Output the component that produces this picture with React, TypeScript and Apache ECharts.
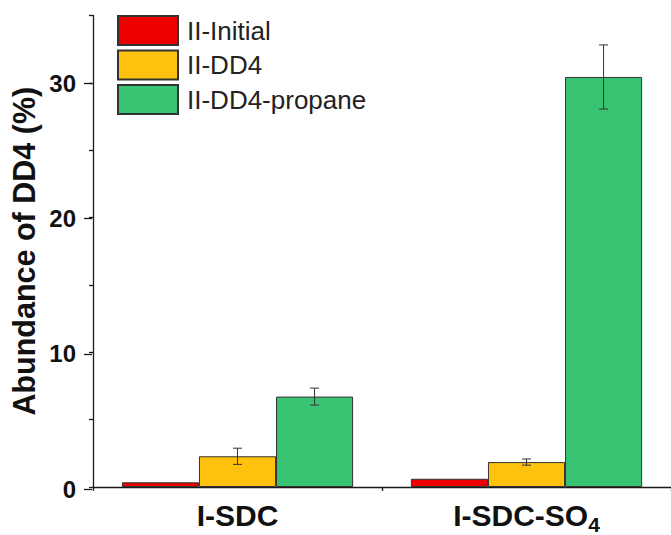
import React, { useEffect, useRef } from "react";
import * as echarts from "echarts";

const categories = ["I-SDC", "I-SDC-SO4"];
const seriesNames = ["II-Initial", "II-DD4", "II-DD4-propane"];
const initialValues = [0.35, 0.61];
const dd4Values = [2.28, 1.85];
const dd4Errors = [0.6, 0.23];
const propaneValues = [6.71, 30.43];
const propaneErrors = [0.63, 2.38];
const seriesColors = ["#EC0000", "#FEC10E", "#39C473"];

const FONT = "Liberation Sans, Arial, sans-serif";

export default function App() {
  const ref = useRef<HTMLDivElement>(null);
  useEffect(() => {
    if (!ref.current) return;
    const chart = echarts.init(ref.current, undefined, { renderer: "svg" });
    const errData: number[][] = [];
    dd4Values.forEach((v, i) => errData.push([i, 1, v - dd4Errors[i], v + dd4Errors[i]]));
    propaneValues.forEach((v, i) => errData.push([i, 2, v - propaneErrors[i], v + propaneErrors[i]]));

    const gridLeft = 92;
    const gridRight = -8;
    const gridTop = 15.4;
    const gridBottom = 45.7;
    const axisColor = "#1a1a1a";

    const barBase = {
      type: "bar",
      barGap: "0%",
      barCategoryGap: "20%",
      xAxisIndex: 0,
      yAxisIndex: 0,
    };

    chart.setOption({
      animation: false,
      textStyle: { fontFamily: FONT },
      legend: {
        orient: "vertical",
        left: 117,
        top: 15,
        padding: 0,
        itemWidth: 60,
        itemHeight: 29,
        itemGap: 3.5,
        icon: "rect",
        data: seriesNames,
        textStyle: {
          fontFamily: FONT,
          fontSize: 26,
          color: "#222",
          padding: [0, 0, 0, 4],
        },
      },
      grid: [
        { left: gridLeft, right: gridRight, top: gridTop, bottom: gridBottom },
        { left: gridLeft, right: gridRight, top: 83.1, bottom: gridBottom },
      ],
      xAxis: [
        {
          type: "category",
          gridIndex: 0,
          data: categories,
          axisLine: { lineStyle: { color: axisColor, width: 1.3 } },
          axisTick: { alignWithLabel: true, length: 8, lineStyle: { color: axisColor, width: 1.3 } },
          axisLabel: {
            margin: 8,
            formatter: (v: string) => (v === "I-SDC-SO4" ? "{a|I-SDC-SO}{sub|4}" : "{a|" + v + "}"),
            rich: {
              a: { fontFamily: FONT, fontSize: 30, fontWeight: "bold", color: "#111", lineHeight: 40 },
              sub: {
                fontFamily: FONT,
                fontSize: 21,
                fontWeight: "bold",
                color: "#111",
                lineHeight: 20,
                verticalAlign: "bottom",
              },
            },
          },
          splitLine: { show: false },
        },
        {
          type: "value",
          gridIndex: 0,
          position: "bottom",
          min: 0,
          max: 2,
          interval: 1,
          axisLine: { show: false },
          axisTick: { show: true, length: 4, lineStyle: { color: axisColor, width: 1.3 } },
          axisLabel: { show: false },
          splitLine: { show: false },
        },
        { type: "value", gridIndex: 1, show: false, min: 0, max: 1 },
      ],
      yAxis: [
        {
          type: "value",
          gridIndex: 0,
          min: 0,
          max: 35,
          interval: 5,
          name: "Abundance of DD4 (%)",
          nameLocation: "middle",
          nameRotate: 90,
          nameGap: 54,
          nameTextStyle: { fontFamily: FONT, fontSize: 30.5, fontWeight: "bold", color: "#111" },
          axisLine: { show: true, lineStyle: { color: axisColor, width: 1.3 } },
          axisTick: { show: true, length: 4, lineStyle: { color: axisColor, width: 1.3 } },
          axisLabel: { show: false },
          splitLine: { show: false },
        },
        {
          type: "value",
          gridIndex: 1,
          min: 0,
          max: 30,
          interval: 10,
          axisLine: { show: false },
          axisTick: { show: true, length: 8, lineStyle: { color: axisColor, width: 1.3 } },
          axisLabel: { margin: 16, fontFamily: FONT, fontSize: 24, fontWeight: "bold", color: "#111" },
          splitLine: { show: false },
        },
      ],
      series: [
        {
          ...barBase,
          name: seriesNames[0],
          data: initialValues,
          itemStyle: { color: seriesColors[0], borderColor: "#333", borderWidth: 1 },
        },
        {
          ...barBase,
          name: seriesNames[1],
          data: dd4Values,
          itemStyle: { color: seriesColors[1], borderColor: "#333", borderWidth: 1 },
        },
        {
          ...barBase,
          name: seriesNames[2],
          data: propaneValues,
          itemStyle: { color: seriesColors[2], borderColor: "#333", borderWidth: 1 },
        },
        {
          type: "custom",
          name: "errors",
          xAxisIndex: 0,
          yAxisIndex: 0,
          z: 10,
          data: errData,
          encode: { x: 0, y: [2, 3] },
          renderItem: (params: any, api: any) => {
            const ci = api.value(0);
            const si = api.value(1);
            const lo = api.value(2);
            const hi = api.value(3);
            const band = api.size([1, 0])[0];
            const bw = (band * 0.8) / 3;
            const x = api.coord([ci, 0])[0] + (si - 1) * bw;
            const yLo = api.coord([ci, lo])[1];
            const yHi = api.coord([ci, hi])[1];
            const cap = 4.5;
            const st = { stroke: "#333", lineWidth: 1 };
            return {
              type: "group",
              children: [
                { type: "line", shape: { x1: x, y1: yLo, x2: x, y2: yHi }, style: st },
                { type: "line", shape: { x1: x - cap, y1: yLo, x2: x + cap, y2: yLo }, style: st },
                { type: "line", shape: { x1: x - cap, y1: yHi, x2: x + cap, y2: yHi }, style: st },
              ],
            };
          },
        },
      ],
    });
    return () => chart.dispose();
  }, []);
  return (
    <div
      ref={ref}
      style={{ position: "fixed", left: 0, top: 0, width: 671, height: 535, background: "#fff" }}
    />
  );
}
